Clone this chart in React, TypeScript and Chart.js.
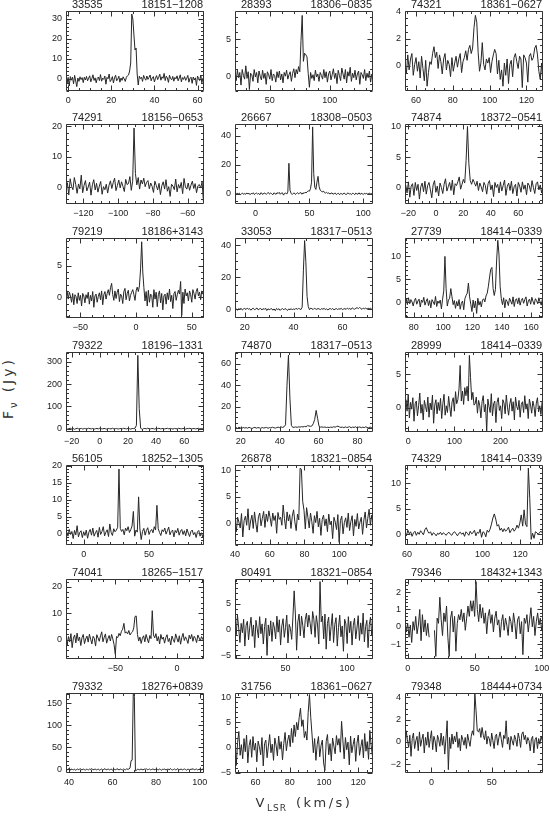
import React, { useEffect, useRef } from "react";
import { Chart, registerables } from "chart.js";

Chart.register(...registerables);

// ---------- panel labels ----------
const panelIds = [
  "33535", "28393", "74321",
  "74291", "26667", "74874",
  "79219", "33053", "27739",
  "79322", "74870", "28999",
  "56105", "26878", "74329",
  "74041", "80491", "79346",
  "79332", "31756", "79348",
];
const panelSources = [
  "18151\u22121208", "18306\u22120835", "18361\u22120627",
  "18156\u22120653", "18308\u22120503", "18372\u22120541",
  "18186+3143", "18317\u22120513", "18414\u22120339",
  "18196\u22121331", "18317\u22120513", "18414\u22120339",
  "18252\u22121305", "18321\u22120854", "18414\u22120339",
  "18265\u22121517", "18321\u22120854", "18432+1343",
  "18276+0839", "18361\u22120627", "18444+0734",
];

// ---------- velocity grid of each spectrum (km/s) ----------
const velStart = [-1, 21, 54, -130, -19, -22, -63, 16, 74, -24, 17.5, -7.5, -13, 40, 59, -90, 9, -2, 38.5, 48, -22];
const velStep = [0.5, 1, 0.75, 0.8, 1, 1, 1, 0.5, 0.8, 1, 0.75, 2.5, 1, 0.75, 0.75, 1, 1, 1, 0.5, 0.75, 1];

// ---------- axis ranges and tick labels ----------
const xMin = [-1, 21, 54, -130, -19, -22.5, -63, 16, 74, -24, 17, -7, -13.5, 40, 59, -90, 9, -2, 38.6, 48, -22];
const xMax = [63, 136, 129, -50.5, 109, 78, 61, 72.5, 168, 74, 88, 292, 92, 119.5, 132, 22, 121, 101, 102, 128.6, 92.6];
const yMin = [-6, -2, -1.85, -5.5, -7, -2.6, -3.3, -5.6, -3.4, -15, -3.7, -3.6, -3.4, -4, -2.1, -7.3, -5.7, -1.85, -8, -5, -2.8];
const yMax = [34, 8.8, 4.02, 20.8, 48, 10.4, 9.4, 44.6, 14, 345, 71, 8.3, 20.2, 11, 13.6, 23, 9.8, 2.75, 173, 10.8, 4.4];
const xTicks = [
  [0, 20, 40, 60], [50, 100], [60, 80, 100, 120],
  [-120, -100, -80, -60], [0, 50, 100], [-20, 0, 20, 40, 60],
  [-50, 0, 50], [20, 40, 60], [80, 100, 120, 140, 160],
  [-20, 0, 20, 40, 60], [20, 40, 60, 80], [0, 100, 200],
  [0, 50], [40, 60, 80, 100], [60, 80, 100, 120],
  [-50, 0], [50, 100], [0, 50, 100],
  [40, 60, 80, 100], [60, 80, 100, 120], [0, 50],
];
const yTicks = [
  [0, 10, 20, 30], [0, 5], [0, 2, 4],
  [0, 10, 20], [0, 20, 40], [0, 5, 10],
  [0, 5], [0, 20, 40], [0, 5, 10],
  [0, 100, 200, 300], [0, 20, 40, 60], [0, 5],
  [0, 5, 10, 15, 20], [0, 5, 10], [0, 5, 10],
  [0, 10, 20], [-5, 0, 5], [-1, 0, 1, 2],
  [0, 50, 100, 150], [-5, 0, 5, 10], [-2, 0, 2, 4],
];
const xMinorStep = [5, 10, 5, 5, 10, 5, 10, 5, 5, 5, 5, 20, 10, 5, 5, 10, 10, 10, 5, 5, 10];
const yMinorStep = [2, 1, 0.5, 2, 5, 1, 1, 5, 1, 20, 5, 1, 1, 1, 1, 2, 1, 0.2, 10, 1, 0.5];

// ---------- flux density (Jy) ----------
const flux01 = [1.5, -2.1, 0.8, -3.5, 1.2, -0.6, 0.9, -2.4, 1.8, -1.0,
  -3.8, 0.5, -1.2, 1.1, -0.3, 0.7, -1.8, 0.9, -0.5, 1.3,
  -0.9, 0.4, 1.6, -1.4, 0.2, 2.1, -0.7, 0.6, -1.9, 0.3,
  1.0, -0.8, 2.2, -1.1, 0.4, -0.2, 1.5, -2.6, 0.8, 0.1,
  2.5, -1.3, -0.4, 1.2, -2.0, 0.6, 1.9, -0.9, -0.1, 1.4,
  -1.6, 0.5, -0.7, 1.1, 0.0, -1.2, 0.9, 1.6, 2.0, 4.0,
  8.0, 32.5, 30.0, 22.0, 14.5, 15.5, 2.5, -3.0, 1.4, 0.2,
  0.9, -1.2, 1.8, 0.3, -0.6, 1.5, -0.2, 0.8, 2.0, -0.9,
  0.6, 1.2, -1.5, 0.4, 1.7, -0.3, 0.9, 2.4, -0.6, 1.1,
  0.3, 2.8, -0.8, 1.4, 0.5, -1.7, 1.9, 0.2, -0.4, 1.3,
  -1.1, 0.8, 0.1, 1.6, -0.9, 0.5, 2.1, -1.4, 0.7, -0.2,
  1.2, -0.7, 0.4, 1.8, -1.6, 0.3, 0.9, -2.2, 1.0, -0.5,
  0.6, -3.2, 1.5, 0.2, -0.8, 2.0, -1.9, 0.4, 1.1];
const flux02 = [0.3, -0.6, 0.8, -0.2, 0.5, -1.2, 0.9, 0.1, -0.4, 1.4,
  -0.3, 0.6, -1.8, 0.4, 0.2, -0.7, 0.9, -0.1, 0.5, -0.9,
  0.7, 0.0, -0.5, 0.8, -0.3, 0.4, -1.1, 0.6, 0.2, -0.4,
  0.9, -0.6, 0.3, 0.1, -0.8, 0.6, -0.2, 0.7, -0.5, 0.3,
  -0.9, 0.5, 0.0, 0.8, -0.4, 0.2, 0.6, -0.7, 0.4, 1.0,
  -0.2, 0.9, 0.3, 1.3, 0.6, 4.8, 8.2, 2.0, 3.1, 2.9,
  2.6, 0.4, -1.5, 0.5, -0.3, 0.2, -0.6, 0.8, -0.1, 0.3,
  -0.7, 0.5, 0.1, -0.4, 0.9, -0.2, 0.6, -0.8, 0.3, 0.7,
  -0.5, 0.2, 1.0, -0.3, 0.4, -1.0, 0.8, 0.1, -0.6, 1.1,
  0.3, -0.4, 0.9, -0.9, 0.6, 0.0, 1.2, -0.7, 0.4, -0.2,
  0.8, -0.5, 0.3, 0.7, -1.1, 0.5, 0.2, -0.3, 0.9, -0.6,
  0.4, -0.2, 0.7, -0.8, 0.3, 0.1];
const flux03 = [0.2, -0.6, 0.8, -0.3, 0.5, 0.9, -0.7, 0.1, 0.6, -0.4,
  0.3, -0.9, 0.7, -0.2, -1.1, 0.4, -1.5, -0.5, 0.3, 0.1,
  0.9, 1.4, 0.6, 1.0, -0.2, 0.8, 0.3, -0.6, 0.5, 0.9,
  -0.3, 0.4, 0.1, -0.8, 0.6, -0.4, 0.2, 0.7, -0.1, 0.5,
  0.9, -0.5, 0.3, 0.6, 1.1, 0.4, 1.2, 1.5, 0.9, 1.3,
  2.8, 3.7, 3.2, 1.0, -0.4, 0.2, 1.7, 0.1, -0.3, 0.5,
  0.2, 0.6, -0.5, 0.3, 0.8, 1.2, 0.9, -0.6, 0.4, -1.0,
  -0.3, -1.5, 0.2, -0.7, 0.5, -1.3, 0.1, 0.4, -0.8, 0.6,
  0.9, 0.3, -0.2, 0.7, 0.5, -1.6, 0.8, 0.6, 0.2, -1.2,
  0.7, 0.9, 0.4, 0.6, 1.3, 1.5, 0.8, -0.4, -1.0, 0.2,
  -1.4];
const flux04 = [-1.0, 1.5, -2.5, 2.8, 0.3, -0.8, 3.2, 0.9, -2.0, 1.1,
  -0.5, 4.0, -1.8, 0.6, 2.2, -1.2, 0.1, 1.7, -2.6, 0.8,
  2.5, -0.9, 1.3, -1.6, 0.4, 1.9, -2.3, 0.2, -0.8, 1.0,
  -1.9, 0.7, 2.1, -0.4, 1.5, 3.0, -1.1, 0.6, 2.4, -0.2,
  1.8, 0.3, -1.4, 2.6, 0.9, 1.2, 3.5, -1.0, 2.0, 19.5,
  4.5, 0.8, 3.2, -0.6, 2.4, 1.1, 3.0, 0.2, 1.6, 2.2,
  -0.5, 1.4, 0.3, -1.7, 2.0, 0.6, -0.9, 1.3, -2.4, 0.5,
  1.8, -0.6, 2.5, -1.3, 0.2, -3.0, 1.0, 0.4, -0.8, 2.7,
  -1.5, 0.9, -0.3, 1.6, -2.1, 2.9, 0.1, -0.6, 1.4, -1.0,
  0.7, 2.0, -0.4, 1.2, -1.8, 0.5, 0.9, -0.2, 1.7, -4.8, 2.3];
const flux05 = [0.3, -0.5, 0.6, -0.2, 0.4, -0.7, 0.1, 0.5, -0.4, 0.2,
  -0.3, 0.6, -0.1, 0.4, -0.6, 0.3, 0.0, 0.7, -0.5, 0.2,
  0.5, -0.2, 0.3, -0.6, 0.8, 0.1, -0.4, 0.6, 0.2, -0.3,
  0.4, 0.9, -0.2, 0.5, 0.1, -0.7, 0.6, 0.3, -0.4, 0.8,
  0.2, 1.0, -0.3, 0.5, 0.7, -0.9, 0.3, 0.6, -0.2, 1.2,
  21.0, 2.5, 0.4, -0.5, 0.3, 0.6, -0.4, 0.2, 0.8, -0.1,
  0.5, 0.9, -0.3, 0.7, 0.2, 1.1, 0.6, 1.5, 2.0, 1.8,
  3.5, 8.0, 46.0, 14.0, 4.5, 3.0, 8.0, 12.0, 5.0, 2.5,
  1.8, 1.2, 2.0, 0.8, 0.5, 1.0, 0.3, 0.7, -0.2, 0.4,
  0.6, -0.3, 0.2, 0.5, -0.5, 0.1, 0.4, -0.6, 0.3, 0.0,
  -0.4, 0.5, 0.2, -0.7, 0.3, 0.6, -0.2, 0.1, -0.5, 0.4,
  0.2, -0.6, 0.5, 0.0, -0.3, 0.7, -0.4, 0.3, 0.1, -0.5,
  0.4, -0.2, 0.6, -0.4, 0.2, 0.5, -0.3, 0.3, 0.1];
const flux06 = [0.5, -0.8, 1.0, -1.5, 0.3, 0.7, -1.2, 0.9, -0.4, 0.6,
  -1.8, 0.2, 0.8, -0.6, 1.1, -1.0, 0.4, 0.9, -0.3, -1.6,
  0.5, 1.2, -0.7, 0.3, -1.3, 0.8, 0.1, -0.9, 0.6, 1.5,
  -0.5, 0.2, 0.9, -0.4, 1.3, -1.1, 0.7, 0.4, 1.0, 1.8,
  -0.2, 0.6, 1.4, 0.8, 4.5, 10.0, 4.0, 1.2, 0.6, 1.4,
  0.9, 0.3, 1.1, -0.4, 0.8, 0.2, -0.6, 0.9, 0.4, -1.0,
  0.7, 1.2, -0.3, 0.5, -1.4, 0.9, 0.1, 0.6, -0.8, 1.0,
  -0.5, 0.4, 1.3, -1.2, 0.3, 0.8, -0.4, 1.1, -0.9, 0.2,
  0.6, -1.3, 0.9, 0.3, -0.7, 1.0, -0.2, 0.5, -1.1, 0.8,
  0.4, -0.6, 1.2, 0.1, -0.9, 0.7, 1.0, -0.3, 0.5, -0.8, 0.3];
const flux07 = [0.5, 1.0, -0.3, 0.8, 0.2, -0.8, 0.6, -1.2, 0.4, 0.1,
  -1.0, 0.7, -0.5, 0.3, -1.4, 0.6, 0.2, -0.9, 0.4, -0.2,
  0.8, -1.1, 0.3, -0.6, 0.9, -1.6, 0.2, 0.5, -0.8, 0.1,
  0.7, -0.4, 1.0, -1.2, 0.4, 0.9, -0.3, 0.6, 1.2, 0.3,
  1.5, 2.2, 0.4, -0.5, 1.0, -0.2, 0.8, 1.3, -0.7, 0.5,
  0.2, -1.0, 0.9, 1.4, -0.4, 0.6, 1.1, -0.6, 0.3, 0.8,
  1.2, 0.4, -0.5, 1.0, 1.6, 0.9, 1.8, 4.5, 8.8, 4.0,
  1.5, -0.6, 0.9, -1.4, 1.1, -0.8, 0.5, 0.3, -1.6, 1.2,
  -0.3, 0.8, -1.5, 0.4, 1.0, -0.9, 0.6, -2.0, 0.2, 0.5,
  -1.1, 0.7, -0.4, 1.3, -0.7, 0.3, -1.8, 0.6, 0.9, -0.5,
  0.4, 1.1, 0.5, 2.5, -2.9, 0.8, -1.0, 1.3, 0.2, 0.7,
  -0.6, 1.0, 0.4, -0.8, 1.2, 0.6, -0.3, 0.9, 1.4, 0.2,
  0.8, -0.4, 1.0, 0.5, 1.3];
const flux08 = [-0.5, 0.2, -0.8, 0.3, -0.2, 0.5, -0.6, 0.1, 0.4, -0.3,
  0.6, -0.1, 0.3, -0.7, 0.2, 0.5, -0.4, 0.0, 0.7, -0.5,
  0.1, 0.4, -0.6, 0.3, -0.2, 0.6, -0.9, 0.2, -0.4, 0.0,
  0.3, -0.7, 0.1, -1.0, 0.4, -0.3, 0.2, -0.8, 0.0, 0.3,
  -0.5, 0.4, -0.2, -0.9, 0.1, -0.4, 0.3, -0.6, 0.2, -0.3,
  0.5, -0.2, 0.4, 0.1, -0.3, 1.2, 24.0, 43.0, 30.0, 8.0,
  1.5, -0.4, 0.6, 0.2, -0.3, 0.5, 0.1, -0.2, 0.4, 0.0,
  -0.3, 0.3, -0.1, 0.5, -0.4, 0.2, -0.6, 0.1, 0.3, -0.2,
  0.4, -0.5, 0.0, 0.3, -0.3, 0.2, -0.1, 0.5, -0.4, 0.1,
  0.3, -0.2, 0.6, 0.0, 0.4, -0.3, 0.8, 0.2, -0.1, 0.5,
  0.9, 0.3, 1.0, 0.4, -0.2, 0.6, 0.2, 0.7, -0.1, 0.5,
  0.3, 0.6, -0.2, 0.4];
const flux09 = [0.2, 0.8, -0.5, 1.0, -0.3, 0.6, 0.1, -0.8, 0.4, 0.9,
  -0.4, 0.3, 0.7, -1.0, 0.5, 0.0, 1.1, -0.6, 0.2, 0.8,
  -0.7, 0.4, -1.2, 0.6, 0.1, -0.5, 1.3, -0.9, 0.3, -0.2,
  0.5, -1.4, 0.7, 2.5, 10.0, 3.0, -0.8, 0.5, 0.9, 3.0,
  1.2, -0.5, 0.4, -1.3, 0.2, -0.8, 0.6, -1.5, -0.2, 0.3,
  -1.6, 0.8, 1.5, 2.0, 4.2, 1.2, -0.4, -2.0, 0.5, -1.2,
  0.3, -2.4, 0.9, -0.6, 0.2, -1.0, 0.5, 0.8, 0.1, 1.4,
  2.0, 3.5, 5.5, 7.2, 7.6, 3.0, 1.5, 2.8, 9.0, 13.5,
  10.5, 3.5, 0.8, -0.5, 1.0, -1.2, 0.6, 0.2, -0.7, 0.9,
  0.3, -0.4, 1.2, -0.9, 0.5, 0.8, -0.3, 1.0, -0.6, 0.4,
  0.9, -0.2, 0.6, 1.2, -0.8, 0.3, 0.7, -0.4, 1.1, 0.2,
  -0.5, 0.8, 0.4, -0.3, 1.0, 0.1, -0.6, 0.7];
const flux10 = [1, -2, 0, 2, -1, 1, -3, 0, 2, -1,
  0, 1, -2, 1, 0, -1, 2, 0, -1, 1,
  -2, 0, 1, -1, 2, 0, -1, 1, 0, -2,
  1, 0, -1, 2, -1, 0, 1, -2, 0, 1,
  -1, 2, 0, -1, 1, 0, -2, 1, 0, 2,
  15, 330, 90, 3, -4, 0, 1, -1, 2, 0,
  -1, 1, 0, -2, 1, 0, 2, -1, 0, 1,
  -1, 0, 2, -1, 1, 0, -2, 1, 0, -1,
  2, 0, -1, 1, 0, -2, 1, 0, 2, -1,
  0, 1, -1, 0, 2, -1, 0, 1, -2];
const flux11 = [0.5, -0.3, 0.8, 0.2, -0.4, 0.6, 0.0, 0.4, -0.2, 0.7,
  0.1, -0.5, 0.3, 0.6, -0.1, 0.4, 0.2, -0.3, 0.5, 0.0,
  0.3, 0.6, -0.2, 0.4, 0.1, 0.7, 0.3, -0.1, 0.5, 0.8,
  0.4, 1.0, 0.6, 1.2, 3.0, 40.0, 68.0, 28.0, 2.5, 0.6,
  0.8, 1.0, 0.7, 1.1, 0.9, 1.3, 1.0, 1.5, 1.2, 2.2,
  2.0, 1.6, 1.8, 4.0, 8.0, 16.5, 9.0, 1.5, 0.8, 1.1,
  0.7, 1.0, 0.5, 0.8, 0.4, 0.9, 0.6, 1.2, 0.8, 1.4,
  1.8, 1.0, 0.6, 0.9, 0.3, 1.1, 0.5, 0.8, 1.3, 0.2,
  0.9, 0.5, 1.2, 0.1, 0.7, 1.0, 0.3, 0.8, 0.4, 1.1,
  0.6, 0.2, 0.9, 0.4, 0.7];
const flux12 = [-1.0, 1.2, -0.5, 2.0, -1.5, 0.8, -0.2, 1.5, -2.0, 0.6,
  1.0, -1.2, 0.3, 2.2, -0.8, 0.5, -1.8, 1.1, 0.2, -0.6,
  1.6, -1.4, 0.7, -0.3, 1.9, -2.3, 0.4, 1.2, -0.9, 0.8,
  -0.4, 1.4, -1.6, 0.6, 2.0, -1.1, 0.3, -0.7, 1.7, 0.1,
  -1.3, 0.9, 1.5, -0.5, 2.4, 0.6, 1.2, 2.8, 6.3, 1.0,
  2.5, 0.5, 3.0, 1.8, 3.2, 1.0, 7.8, 4.5, 1.2, 2.3,
  0.4, 0.6, 1.6, -0.8, 1.1, 0.3, -1.5, 0.9, 1.8, -0.6,
  0.5, -3.5, 1.3, 0.2, -0.7, 2.1, -1.2, 0.6, 1.0, -2.2,
  0.8, 1.5, -0.4, 0.3, -1.6, 1.2, 0.7, -0.9, 1.9, 0.1,
  -1.1, 0.6, 1.4, -0.5, 0.9, -1.8, 1.6, 0.2, -0.3, 1.1,
  -1.4, 0.5, 0.9, -0.7, 1.8, -0.2, 0.6, -1.6, 1.3, 0.4,
  -0.8, 1.0, 0.2, -1.3, 0.7, 1.5, -0.6, 0.3, -1.0, 0.8,
  0.2];
const flux13 = [0.5, -0.8, 1.2, -0.3, 0.6, -1.5, 0.9, -0.4, 2.3, -1.0,
  0.3, 0.8, -1.2, 0.5, -0.6, 1.0, -1.4, 0.4, 1.2, -0.5,
  1.6, -0.8, 0.2, 0.9, -1.1, 1.8, -0.3, 0.6, 2.0, -0.7,
  0.4, 1.1, -0.9, 2.8, 0.3, -0.6, 1.4, 0.5, 1.0, 1.8,
  19.0, 1.5, 0.6, 1.2, -0.4, 1.6, 0.8, 2.0, 0.3, 1.1,
  2.2, 6.5, -0.8, 1.0, 0.4, 10.8, 1.3, -1.8, 0.6, 1.5,
  -0.5, 0.9, 1.7, -0.3, 0.7, 1.2, 0.2, 2.0, 1.0, 8.3,
  1.4, 0.3, -0.6, 1.1, 0.5, 1.6, -0.2, 0.8, 1.9, -0.4,
  0.6, 1.0, -1.0, 0.9, 0.2, 1.5, -0.5, 0.7, 1.2, -0.3,
  0.8, -0.7, 1.3, 0.1, -0.9, 0.6, 1.0, -0.4, 0.3, -1.2,
  0.5, 0.9, -0.8, 0.2, -1.0, 0.4];
const flux14 = [0.8, -1.5, 1.2, 0.3, -0.8, 1.9, -2.5, 0.6, 1.4, -0.3,
  2.8, -1.2, 0.5, 1.6, -0.9, 2.2, 0.1, -1.6, 1.3, 2.0,
  -0.4, 1.0, 2.3, -0.7, 1.8, 0.4, 2.4, 1.1, -0.5, 2.0,
  0.6, 1.5, -1.8, 2.1, 0.8, 1.2, -0.3, 3.5, 0.9, -1.0,
  2.2, 0.5, 1.7, -0.9, 1.4, 2.6, 0.3, -1.3, 1.8, 0.7,
  10.4, 10.2, 4.2, 2.5, -1.0, 3.0, 1.2, -0.8, 2.0, 0.4,
  -1.8, 1.5, 0.2, 2.3, -0.6, 1.0, -2.2, 0.8, 1.6, -0.4,
  0.9, -1.5, 1.8, -0.2, 0.5, -2.8, 1.2, 0.3, -1.1, 1.7,
  -3.5, 0.6, 1.4, -1.9, 0.2, 1.1, -0.7, 2.0, -1.3, 0.4,
  1.5, -2.3, 0.8, -0.5, 1.9, -1.0, 0.3, 1.2, -2.0, 0.7,
  2.2, -0.8, 1.0, 2.7, -0.3, 1.6, 0.2];
const flux15 = [0.2, -0.3, 0.8, 0.1, 0.5, -0.4, 0.3, 0.6, -0.2, 0.4,
  0.0, 0.7, 0.3, -0.1, 0.9, 1.3, 0.6, 0.2, 0.5, -0.2,
  0.3, 0.1, -0.3, 0.2, 0.0, 0.4, -0.1, 0.3, 0.1, -0.2,
  0.2, 0.4, 0.0, -0.2, 0.3, 0.5, 0.1, -0.3, 0.2, 0.4,
  0.0, 0.3, -0.4, 0.5, 0.2, -0.2, 0.6, 0.1, 0.3, 0.8,
  -0.3, 0.4, 0.2, 1.0, -0.6, 0.5, 0.3, -0.5, 0.8, 0.4,
  1.0, 2.0, 3.2, 4.0, 3.0, 1.6, 1.9, 0.8, 1.2, 0.5,
  1.1, 0.6, 0.9, 1.4, 0.3, 0.8, 1.2, 0.6, 1.0, 1.8,
  1.2, 2.2, 3.8, 1.6, 4.8, 2.0, 1.5, 13.0, 7.0, -1.0,
  0.2, -0.8, 0.5, 0.3, 0.0, 0.4, 0.6, 0.2];
const flux16 = [0.5, -2.0, 1.2, -0.8, 2.3, -3.0, 0.6, 1.8, -1.2, 2.5,
  -0.4, 1.0, -2.2, 0.8, 2.0, -1.5, 0.3, 1.4, -0.9, 2.1,
  0.2, -1.6, 1.3, 0.5, -2.4, 1.9, 0.7, -0.6, 1.5, 3.0,
  -0.8, 0.9, 2.2, -1.3, 0.4, 1.6, -0.5, 2.0, 0.3, -1.8,
  -5.5, 1.2, 0.8, 2.4, 1.5, 3.2, 4.0, 6.2, 2.5, 3.0,
  2.2, 3.5, 1.8, 2.6, 3.0, 4.5, 8.8, 9.0, 2.0, -0.5,
  1.0, -1.4, 0.6, 1.5, -0.8, 2.0, 0.3, -1.2, 1.6, 0.4,
  11.0, 1.8, 0.7, 2.3, -0.5, 1.2, -1.6, 2.0, 0.2, 1.0,
  -1.3, 0.8, 1.9, -0.7, 0.5, -2.0, 1.4, 0.1, -1.0, 2.2,
  0.6, -0.9, 1.5, -1.7, 0.9, 2.4, -0.3, 1.1, 0.0, -1.4,
  1.7, 0.3, 2.0, -0.6, 1.3, 0.5, -1.1, 1.8, 0.7, -0.4,
  1.2, 0.2, -0.8];
const flux17 = [1.5, -1.0, 2.8, 0.3, -2.5, 1.2, -0.6, 2.0, -3.2, 0.8,
  1.6, -2.0, 0.5, 2.4, -1.3, 0.9, -3.5, 1.8, 0.2, -1.6,
  2.5, -0.8, 1.1, -2.8, 0.6, 2.2, -5.0, 0.9, -1.2, 1.7,
  -2.3, 1.4, 0.3, -1.8, 2.6, -0.5, 1.9, -3.0, 0.7, 2.1,
  -1.5, 0.4, 2.8, -2.6, 1.0, 0.2, -1.9, 2.4, 7.5, 3.0,
  -4.0, 1.5, 3.0, -1.2, 2.6, 0.8, -1.6, 1.9, 3.2, 0.5,
  2.8, 1.2, -0.9, 3.5, 2.0, -1.5, 2.7, 0.9, -2.8, 9.3,
  1.5, 2.6, -1.8, 3.0, -3.8, 1.2, 2.4, -2.2, 0.6, 3.1,
  -2.5, 1.0, 2.3, -3.2, 0.4, 2.8, -1.4, 0.7, -4.2, 2.0,
  1.1, -2.7, 2.5, -0.6, 1.6, -3.0, 0.8, 2.2, -1.8, 0.3,
  2.7, -2.1, 1.3, -0.9, 3.2, -2.4, 0.6, 1.8, -3.5, 1.0,
  2.4, -1.2, 0.5];
const flux18 = [0.5, -0.3, 0.2, -0.6, 0.1, -0.9, 0.3, -0.2, 0.6, -0.4,
  0.1, 1.0, -0.8, 0.7, -0.3, 0.4, -0.5, 0.2, -0.6, null,
  null, null, -0.2, -1.7, 0.5, 0.2, 1.7, 0.4, -0.5, 0.8,
  0.3, 1.2, -0.6, -1.7, 0.5, 0.9, -0.3, 0.6, -1.4, 0.2,
  0.7, 0.4, 1.0, 0.3, 0.8, -0.2, 0.5, 1.2, 0.6, 1.5,
  0.9, 1.5, 0.6, 2.6, 1.0, 0.3, 1.3, 0.5, 1.1, 0.2,
  0.8, -0.4, 0.6, 1.0, 0.2, 0.7, -0.3, 0.5, 0.9, 0.1,
  0.4, -0.6, 0.3, 0.7, -0.2, 0.5, 0.1, -0.5, 0.6, 0.3,
  -0.3, 0.8, 0.2, -0.7, 0.4, 0.6, -0.4, 0.3, -1.6, 0.5,
  0.2, 0.7, -0.3, 0.4, 1.1, 0.0, 0.6, -0.5, 0.3, 0.8,
  0.1, 0.5, -0.2, 0.4];
const flux19 = [1, -1, 0, 2, -2, 1, 0, -1, 1, -2,
  0, 1, -1, 2, 0, -1, 1, 0, -2, 1,
  0, -1, 1, 0, 2, -1, 0, 1, -1, 0,
  1, -2, 0, 1, -1, 0, 2, -1, 0, 1,
  -1, 0, 1, -2, 1, 0, -1, 2, 0, -1,
  1, 0, -1, 1, 0, -1, 2, 0, 1, 3,
  20, 21, 170, 165, -3, -2, 1, 0, -1, 1,
  0, -1, 1, 0, 2, -1, 0, 1, -1, 0,
  1, 0, -1, 2, 0, -1, 1, 0, -2, 1,
  0, 1, -1, 0, 1, -1, 2, 0, -1, 0,
  1, -1, 0, 2, -1, 0, 1, -1, 0, 1,
  0, -2, 1, 0, -1, 1, 0, 2, -1, 0,
  1, -1, 0, 1, -2, 0, 1, 0];
const flux20 = [2.8, -3.5, 1.0, 3.2, -1.5, 0.6, -2.2, 1.8, -0.8, 2.5,
  -3.0, 0.4, 1.6, -1.9, 2.2, -0.5, 0.9, -2.8, 1.3, 0.2,
  -1.4, 2.0, -3.6, 0.8, 1.5, -2.0, 0.3, 2.6, -1.0, 0.7,
  -2.5, 1.9, 0.5, -1.6, 2.3, -0.3, 1.2, -2.4, 0.8, 3.0,
  -0.6, 1.4, 2.5, 0.2, 3.8, 1.0, 4.5, 2.2, 5.0, 3.5,
  6.0, 7.8, 4.2, 5.5, 2.0, 3.2, 1.5, 7.0, 10.5, 6.0,
  2.5, -1.0, 1.8, -2.5, 0.6, 2.2, -1.8, 0.4, 1.5, -3.0,
  -4.5, 1.2, 2.6, -1.4, 0.8, -2.6, 1.9, 0.3, -1.2, 2.4,
  0.5, 1.8, -0.9, 5.2, 1.5, -2.2, 2.0, -0.4, 1.1, -3.4,
  2.3, -1.0, 0.6, 1.9, -2.7, 0.9, 2.5, -1.5, 0.2, 1.6,
  -2.0, 2.8, -0.7, 1.2, -2.3, 3.4, 0.5, -1.6];
const flux21 = [-1.0, 1.0, 0.2, -0.5, 0.6, -1.3, 0.3, 0.8, -0.6, 0.1,
  0.5, -0.8, 0.9, -0.4, 0.2, 0.7, -1.0, 0.4, -0.3, 0.9,
  -0.5, 0.3, 1.0, -0.7, 0.5, 0.1, -0.9, 0.6, 0.2, -0.4,
  0.8, -0.3, 0.5, -1.1, 0.3, 1.9, -2.5, 0.4, -0.6, 0.7,
  -0.2, 0.5, 0.0, 0.9, -0.5, 0.3, -0.8, 0.6, 0.2, -0.3,
  0.4, -0.6, 0.7, 0.1, -0.4, 0.5, 1.0, 0.6, 4.4, 2.8,
  1.0, 0.9, 1.2, 0.4, 1.3, 0.6, 0.2, 1.0, -0.2, 0.5,
  0.3, -0.4, 0.8, 0.1, -0.6, 0.5, 0.7, -0.3, 0.4, 0.9,
  0.2, -0.5, 0.6, 0.3, 1.9, -0.2, 0.4, -0.7, 0.5, 0.1,
  -0.3, 0.6, 0.2, -0.4, 0.8, 0.3, -0.5, 0.7, 0.9, 0.2,
  0.6, -0.2, 0.4, 0.1, -0.8, 0.3, 0.5, -1.0, 0.2, 0.4,
  -0.6, 0.3, -0.2, 0.5, 0.1];

const fluxSeries: (number | null)[][] = [
  flux01, flux02, flux03, flux04, flux05, flux06, flux07,
  flux08, flux09, flux10, flux11, flux12, flux13, flux14,
  flux15, flux16, flux17, flux18, flux19, flux20, flux21,
];

// ---------- layout (pixels) ----------
const COL_LEFT = [66, 235, 405];
const ROW_TOP = [11, 124, 238, 352, 465, 579, 693];
const BOX_W = 138;
const BOX_H = 80;
const PAD_L = 40;
const PAD_T = 14;
const PAD_R = 12;
const PAD_B = 18;
const CW = PAD_L + BOX_W + PAD_R;
const CH = PAD_T + BOX_H + PAD_B;

const INK = "#222";
const FONT = '"Liberation Sans", Arial, Helvetica, sans-serif';

function fmt(v: number): string {
  const r = Math.round(v * 1000) / 1000;
  return r < 0 ? "\u2212" + Math.abs(r) : String(r);
}

function makeBoxPlugin(p: number) {
  return {
    id: "pgbox" + p,
    afterDatasetsDraw(chart: any) {
      const { ctx, chartArea: a, scales } = chart;
      const sx = scales.x;
      const sy = scales.y;
      const L = Math.round(a.left) + 0.5;
      const R = Math.round(a.right) - 0.5;
      const T = Math.round(a.top) + 0.5;
      const B = Math.round(a.bottom) - 0.5;
      ctx.save();
      ctx.strokeStyle = "#333";
      ctx.lineWidth = 1;
      ctx.beginPath();
      ctx.rect(L, T, R - L, B - T);
      const xm = xMinorStep[p];
      for (let k = Math.ceil(xMin[p] / xm - 1e-9); k <= Math.floor(xMax[p] / xm + 1e-9); k++) {
        const v = k * xm;
        const major = xTicks[p].some((t) => Math.abs(t - v) < 1e-6);
        const len = major ? 5 : 2.5;
        const px = Math.round(sx.getPixelForValue(v)) + 0.5;
        ctx.moveTo(px, B);
        ctx.lineTo(px, B - len);
        ctx.moveTo(px, T);
        ctx.lineTo(px, T + len);
      }
      const ym = yMinorStep[p];
      for (let k = Math.ceil(yMin[p] / ym - 1e-9); k <= Math.floor(yMax[p] / ym + 1e-9); k++) {
        const v = k * ym;
        const major = yTicks[p].some((t) => Math.abs(t - v) < 1e-6);
        const len = major ? 5 : 2.5;
        const py = Math.round(sy.getPixelForValue(v)) + 0.5;
        ctx.moveTo(L, py);
        ctx.lineTo(L + len, py);
        ctx.moveTo(R, py);
        ctx.lineTo(R - len, py);
      }
      ctx.stroke();
      ctx.fillStyle = INK;
      ctx.font = "11px " + FONT;
      ctx.textBaseline = "alphabetic";
      ctx.textAlign = "left";
      ctx.fillText(panelIds[p], a.left + 6, a.top - 3);
      ctx.textAlign = "right";
      ctx.fillText(panelSources[p], a.right - 1, a.top - 3);
      ctx.restore();
    },
  };
}

function Panel({ p }: { p: number }) {
  const ref = useRef<HTMLCanvasElement>(null);
  useEffect(() => {
    const canvas = ref.current;
    if (!canvas) return;
    const pts = fluxSeries[p].map((f, i) => ({
      x: Math.round((velStart[p] + i * velStep[p]) * 1000) / 1000,
      y: f,
    }));
    const tickFont = { family: FONT, size: 9 };
    const chart = new Chart(canvas, {
      type: "line",
      data: {
        datasets: [
          {
            data: pts as any,
            borderColor: "#262626",
            borderWidth: 1,
            pointRadius: 0,
            tension: 0,
            fill: false,
            spanGaps: false,
          },
        ],
      },
      options: {
        responsive: false,
        animation: false,
        events: [],
        devicePixelRatio: 1,
        layout: { padding: { left: 0, top: PAD_T, right: PAD_R, bottom: 0 }, autoPadding: false } as any,
        plugins: {
          legend: { display: false },
          tooltip: { enabled: false },
          title: { display: false },
        },
        scales: {
          x: {
            type: "linear",
            min: xMin[p],
            max: xMax[p],
            afterFit: (s: any) => {
              s.height = PAD_B;
            },
            afterBuildTicks: (s: any) => {
              s.ticks = xTicks[p].map((v) => ({ value: v }));
            },
            grid: { display: false, drawTicks: false },
            border: { display: false },
            ticks: {
              autoSkip: false,
              maxRotation: 0,
              minRotation: 0,
              padding: 4,
              color: INK,
              font: tickFont,
              callback: (v: any) => fmt(Number(v)),
            },
          },
          y: {
            type: "linear",
            min: yMin[p],
            max: yMax[p],
            afterFit: (s: any) => {
              s.width = PAD_L;
            },
            afterBuildTicks: (s: any) => {
              s.ticks = yTicks[p].map((v) => ({ value: v }));
            },
            grid: { display: false, drawTicks: false },
            border: { display: false },
            ticks: {
              autoSkip: false,
              padding: 4,
              color: INK,
              font: tickFont,
              callback: (v: any) => fmt(Number(v)),
            },
          },
        },
      } as any,
      plugins: [makeBoxPlugin(p)],
    });
    return () => chart.destroy();
  }, [p]);
  const col = p % 3;
  const row = Math.floor(p / 3);
  return (
    <canvas
      ref={ref}
      width={CW}
      height={CH}
      style={{
        position: "absolute",
        left: COL_LEFT[col] - PAD_L,
        top: ROW_TOP[row] - PAD_T,
        width: CW,
        height: CH,
      }}
    />
  );
}

export default function App() {
  const idx = panelIds.map((_, i) => i);
  return (
    <div
      style={{
        position: "absolute",
        left: 0,
        top: 0,
        width: 551,
        height: 817,
        background: "#fff",
        overflow: "hidden",
      }}
    >
      {idx.map((p) => (
        <Panel key={p} p={p} />
      ))}
      <div
        style={{
          position: "absolute",
          left: 11,
          top: 388,
          transform: "translate(-50%, -50%) rotate(-90deg)",
          whiteSpace: "nowrap",
          fontFamily: '"DejaVu Sans", sans-serif',
          fontSize: 14,
          letterSpacing: "3px",
          color: "#333",
          lineHeight: "16px",
        }}
      >
        F<sub style={{ fontSize: 10, letterSpacing: 0 }}>&nu;</sub>{"\u2002(Jy)"}
      </div>
      <div
        style={{
          position: "absolute",
          left: 304,
          top: 795,
          transform: "translateX(-50%)",
          whiteSpace: "nowrap",
          fontFamily: '"DejaVu Sans", sans-serif',
          fontSize: 13,
          letterSpacing: "2.5px",
          color: "#333",
          lineHeight: "16px",
        }}
      >
        V<sub style={{ fontSize: 9, letterSpacing: "1px" }}>LSR</sub>{"\u2002(km/s)"}
      </div>
    </div>
  );
}
